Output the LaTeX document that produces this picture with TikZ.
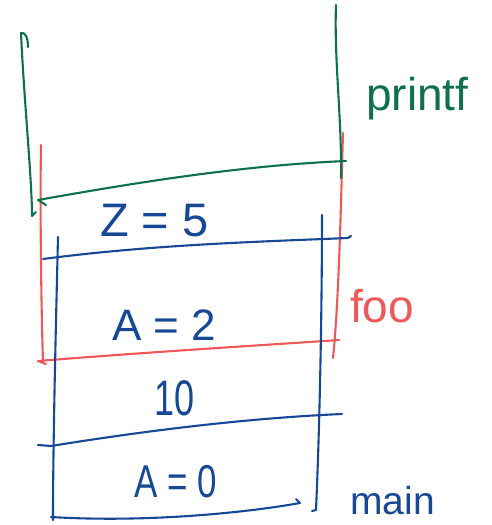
\documentclass[tikz,border=0pt]{standalone}
\usepackage{fontspec}
\setmainfont{Liberation Sans}
\newfontfamily\narrowA[FakeStretch=0.72]{Liberation Sans}
\newfontfamily\narrowB[FakeStretch=0.76]{Liberation Sans}
\definecolor{gcol}{RGB}{14,112,76}
\definecolor{rcol}{RGB}{240,88,88}
\definecolor{bcol}{RGB}{22,72,150}
\tikzset{
  pen/.style={line width=2.1pt, line cap=round, line join=round},
  gpen/.style={pen, draw=gcol},
  rpen/.style={pen, draw=rcol},
  bpen/.style={pen, draw=bcol},
  lbl/.style={inner sep=0pt, anchor=base west},
}
\begin{document}
\begin{tikzpicture}[x=1pt,y=-1pt]
\useasboundingbox (0,0) rectangle (491,525);
% red frame (foo)
\draw[rpen] (41,145) .. controls (40,200) and (41,300) .. (43,362);
\draw[rpen] (46,364) -- (38,361) .. controls (150,352) and (250,346) .. (339,340);
\draw[rpen] (343,133) .. controls (341,200) and (339,300) .. (333,358);
% green frame (printf)
\draw[gpen] (28,47) .. controls (28,37) and (25,32) .. (21,33) .. controls (24,100) and (32,180) .. (32,216) -- (36,212);
\draw[gpen] (46,205) -- (38,200) .. controls (150,180) and (250,165) .. (346,161);
\draw[gpen] (336,5) .. controls (334,60) and (342,120) .. (341,178);
% blue frame (main)
\draw[bpen] (43,259) .. controls (150,245) and (250,242) .. (348,238) -- (351,236);
\draw[bpen] (58,237) .. controls (56,320) and (53,440) .. (53,520);
\draw[bpen] (322,215) .. controls (322,300) and (320,420) .. (316,510) -- (312,511);
\draw[bpen] (38,445) -- (51,446) .. controls (150,430) and (250,418) .. (342,414);
\draw[bpen] (51,517) .. controls (150,523) and (250,512) .. (300,503) -- (296,499);
% labels
\node[lbl, text=gcol, font=\fontsize{46}{50}\selectfont] (printf) at (366,110) {printf};
\node[lbl, text=rcol, font=\fontsize{46}{50}\selectfont] (foo) at (350,322) {foo};
\node[lbl, text=bcol, font=\fontsize{39}{42}\selectfont] (main) at (350,514) {main};
\node[lbl, text=bcol, font=\fontsize{47}{50}\selectfont] (z) at (100,236) {Z = 5};
\node[lbl, text=bcol, font=\fontsize{44}{50}\selectfont] (a2) at (112,340) {A = 2};
\node[lbl, text=bcol, font=\narrowA\fontsize{50}{50}\selectfont] (ten) at (154,415) {10};
\node[lbl, text=bcol, font=\narrowB\fontsize{46}{50}\selectfont] (a0) at (134,497) {A = 0};
\end{tikzpicture}
\end{document}
